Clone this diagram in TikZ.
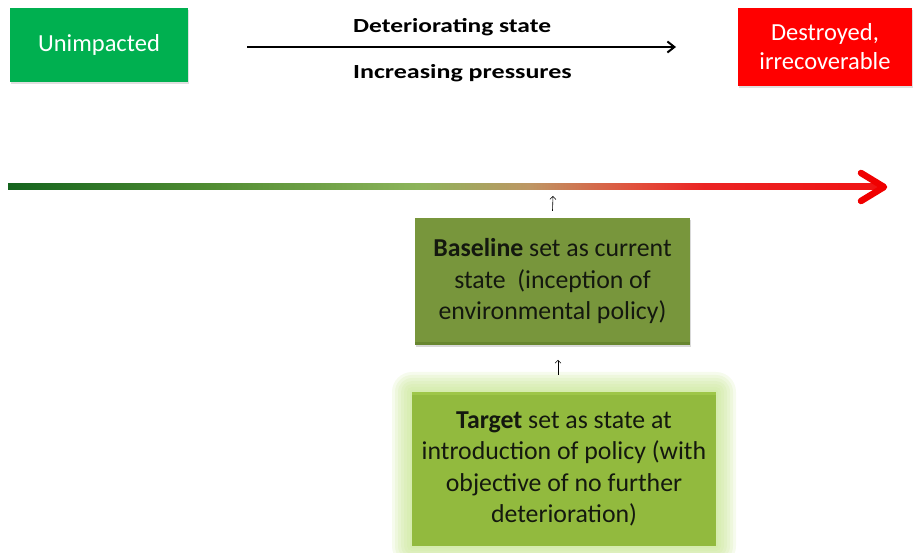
\documentclass[tikz,border=0pt]{standalone}
\usepackage{fontspec}
\setmainfont{Carlito}
\usepackage{xcolor}
\usetikzlibrary{positioning, shadows, arrows.meta}

\definecolor{keepgreen}{RGB}{0,176,80}
\definecolor{lostred}{RGB}{255,0,0}
\definecolor{baseolive}{RGB}{120,150,60}
\definecolor{baseolivedark}{RGB}{104,134,48}
\definecolor{targetgreen}{RGB}{146,186,62}
\definecolor{targetgreenlight}{RGB}{158,198,72}
\definecolor{glowgreen}{RGB}{196,228,140}
\definecolor{boxtext}{RGB}{20,24,15}

\pgfdeclarehorizontalshading{statescale}{100bp}{%
  color(0bp)=(rgb,255:red,20;green,100;blue,30);
  color(25bp)=(rgb,255:red,20;green,100;blue,30);
  color(36.5bp)=(rgb,255:red,80;green,140;blue,50);
  color(48.5bp)=(rgb,255:red,140;green,180;blue,90);
  color(55bp)=(rgb,255:red,190;green,150;blue,100);
  color(61bp)=(rgb,255:red,225;green,80;blue,60);
  color(65bp)=(rgb,255:red,235;green,35;blue,35);
  color(75bp)=(rgb,255:red,240;green,20;blue,20);
  color(100bp)=(rgb,255:red,240;green,20;blue,20)}

\begin{document}
\begin{tikzpicture}[x=1pt, y=-1pt]

	\tikzstyle{endbox} = [rectangle, text=white, font=\fontsize{24.5}{29}\selectfont,
	align=center, inner sep=0pt, drop shadow={opacity=0.25, shadow xshift=1pt, shadow yshift=-2pt}]
	\tikzstyle{statebox} = [rectangle, text=boxtext, font=\fontsize{25.8}{31.5}\selectfont,
	align=center, inner sep=0pt]
	\tikzstyle{trendlabel} = [anchor=west, inner sep=0pt, font=\fontsize{20}{23}\selectfont\bfseries]
	\tikzstyle{arrow} = [line width=2pt, -{Straight Barb[length=7pt, width=11pt]}]
	\tikzstyle{tinyarrow} = [line width=0.6pt, -{Straight Barb[length=3pt, width=6pt]}]
	\useasboundingbox (0,0) rectangle (919,553);

	\node[endbox, fill=keepgreen, minimum width=178, minimum height=74] (unimp) at (99,45) {Unimpacted};
	\node[endbox, fill=lostred, minimum width=174, minimum height=78] (lost) at (825,47) {Destroyed,\\irrecoverable};

	\coordinate (trendstart) at (247,47);
	\coordinate (trendend) at (676,47);
	\draw [arrow] (trendstart) -- (trendend);
	\node[trendlabel] (state) at (353,27) {\scalebox{1.27}[1]{Deteriorating state}};
	\node[trendlabel] (press) at (353,73) {\scalebox{1.3}[1]{Increasing pressures}};

	% colour scale of the state
	\shade[shading=statescale] (8,184) rectangle (878,190);
	\draw [red!94!black, line width=6.5pt, line cap=round, line join=round] (861,173) -- (884,187) -- (861,201);
	\coordinate (now) at (553,196);

	\node[statebox, fill=baseolive, minimum width=275, minimum height=127,
	drop shadow={opacity=0.3, shadow xshift=1pt, shadow yshift=-2pt}] (baseline) at (552.5,281.5)
	{\textbf{Baseline} set as current\\state~ (inception of\\environmental policy)};
	\fill[baseolivedark] (baseline.south west) rectangle ([yshift=3pt]baseline.south east);

	% glow round the target
	\foreach \g in {20,17,...,2}
		\fill[glowgreen, opacity=0.16, rounded corners=\g pt] (412-\g,392-\g) rectangle (716+\g,546+\g);
	\node[statebox, fill=targetgreen, minimum width=304, minimum height=154] (target) at (564,469)
	{\textbf{Target} set as state at\\introduction of policy (with\\objective of no further\\deterioration)};
	\fill[targetgreenlight] (target.north west) rectangle ([yshift=-3pt]target.north east);

	\draw [tinyarrow] ([yshift=7pt]baseline.north) -- (now);
	\draw [tinyarrow] ([xshift=-6pt,yshift=17pt]target.north) -- ([xshift=-6pt,yshift=32pt]target.north);

\end{tikzpicture}
\end{document}
